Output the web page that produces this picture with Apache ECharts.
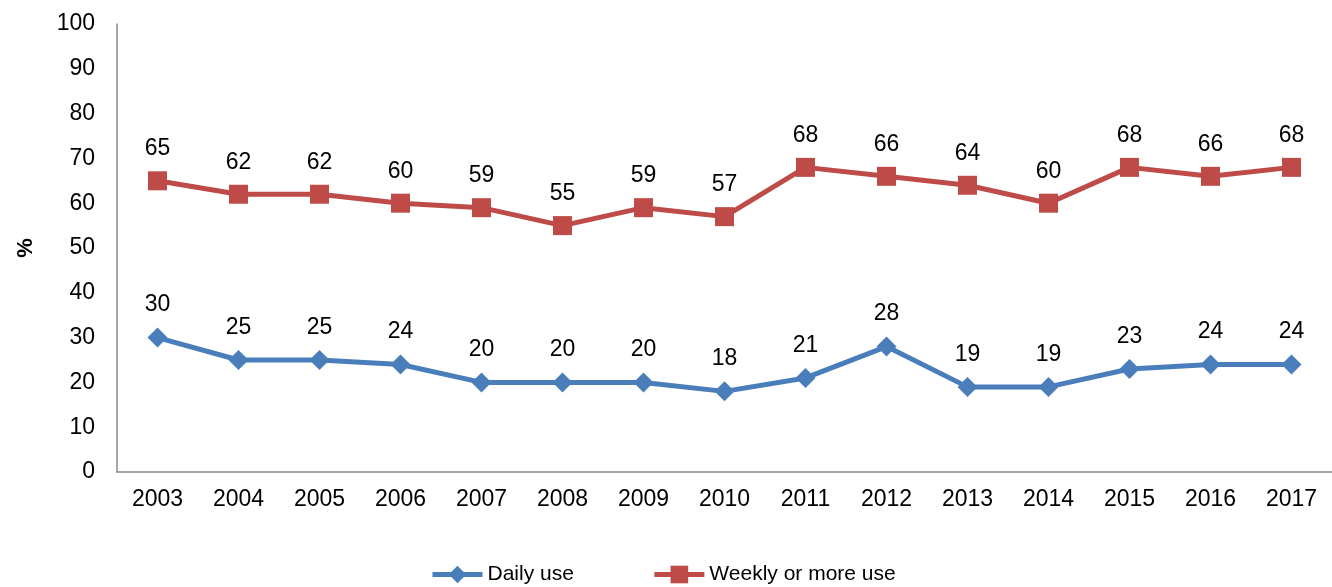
<!DOCTYPE html>
<html>
<head>
<meta charset="utf-8">
<script src="https://cdn.jsdelivr.net/npm/echarts@6/dist/echarts.min.js"></script>
<style>
  html, body { margin: 0; padding: 0; background: #ffffff; }
  #chart { width: 1332px; height: 587px; }
</style>
</head>
<body>
<div id="chart"></div>
<script>
// Survey years
const years = ['2003','2004','2005','2006','2007','2008','2009','2010','2011','2012','2013','2014','2015','2016','2017'];
// Share of respondents (%)
const dailyUse = [30, 25, 25, 24, 20, 20, 20, 18, 21, 28, 19, 19, 23, 24, 24];
const weeklyUse = [65, 62, 62, 60, 59, 55, 59, 57, 68, 66, 64, 60, 68, 66, 68];

const FONT = '"Liberation Sans", Arial, sans-serif';
const chart = echarts.init(document.getElementById('chart'), null, { renderer: 'canvas' });

const labelStyle = {
  show: true,
  position: 'top',
  distance: 11,
  fontFamily: FONT,
  fontSize: 23,
  color: '#000000'
};

chart.setOption({
  animation: false,
  backgroundColor: '#ffffff',
  grid: { left: 117, top: 24, width: 1224, height: 448, containLabel: false },
  legend: {
    left: 425,
    top: 559,
    itemWidth: 50,
    itemHeight: 22,
    itemGap: 78,
    lineStyle: { width: 5 },
    textStyle: { fontFamily: FONT, fontSize: 21, color: '#000000' },
    data: ['Daily use', 'Weekly or more use']
  },
  xAxis: {
    type: 'category',
    data: years,
    boundaryGap: true,
    axisLine: { lineStyle: { color: '#898989', width: 1.5 } },
    axisTick: { show: false },
    axisLabel: { fontFamily: FONT, fontSize: 23, color: '#000000', margin: 16 }
  },
  yAxis: {
    type: 'value',
    min: 0,
    max: 100,
    interval: 10,
    name: '%',
    nameLocation: 'middle',
    nameGap: 80,
    nameRotate: 90,
    nameTextStyle: { fontFamily: FONT, fontSize: 22, fontWeight: 'bold', color: '#000000' },
    axisLine: { show: true, lineStyle: { color: '#898989', width: 1.5 } },
    axisTick: { show: false },
    splitLine: { show: false },
    axisLabel: { fontFamily: FONT, fontSize: 23, color: '#000000', margin: 22 }
  },
  series: [
    {
      name: 'Daily use',
      type: 'line',
      data: dailyUse,
      symbol: 'diamond',
      symbolSize: 20,
      color: '#4a7ebb',
      lineStyle: { width: 5, color: '#4a7ebb' },
      itemStyle: { color: '#4a7ebb' },
      label: labelStyle
    },
    {
      name: 'Weekly or more use',
      type: 'line',
      data: weeklyUse,
      symbol: 'rect',
      symbolSize: 19,
      color: '#be4b48',
      lineStyle: { width: 5, color: '#be4b48' },
      itemStyle: { color: '#be4b48' },
      label: labelStyle
    }
  ]
});
</script>
</body>
</html>
